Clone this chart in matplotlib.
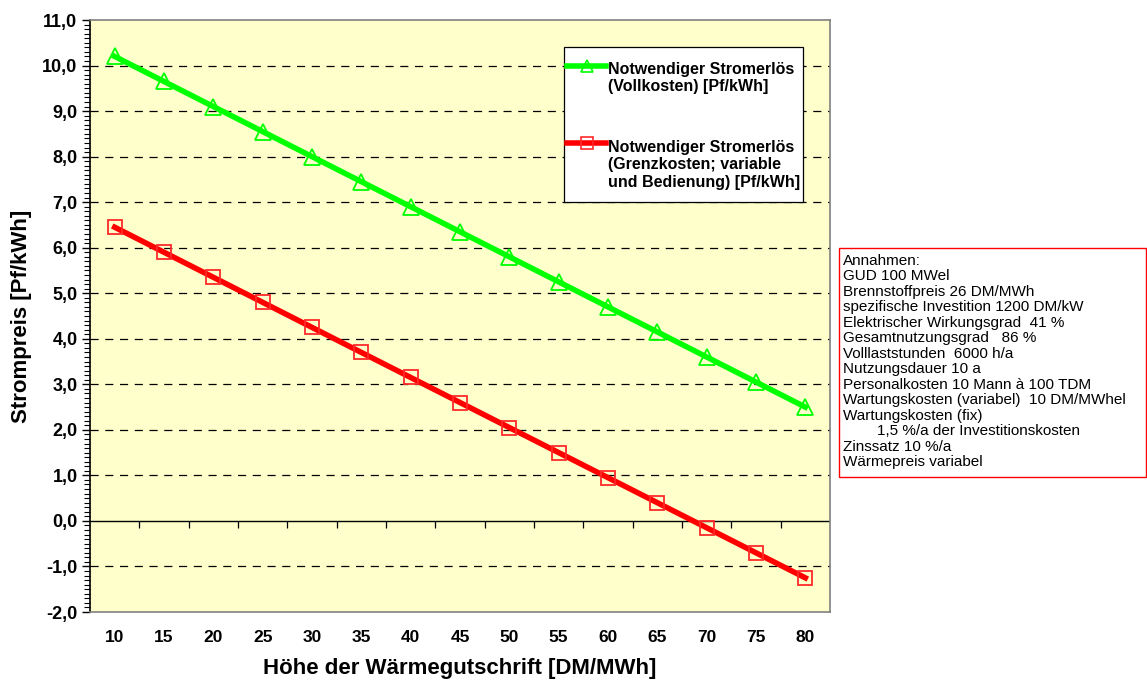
import matplotlib
matplotlib.use("Agg")
import matplotlib.pyplot as plt
from matplotlib.ticker import MultipleLocator, FixedLocator, NullFormatter
from matplotlib.lines import Line2D

categories = [10, 15, 20, 25, 30, 35, 40, 45, 50, 55, 60, 65, 70, 75, 80]
vollkosten = [10.2, 9.65, 9.1, 8.55, 8.0, 7.45, 6.9, 6.35, 5.8, 5.25, 4.7, 4.15, 3.6, 3.05, 2.5]
grenzkosten = [6.45, 5.9, 5.35, 4.8, 4.25, 3.7, 3.15, 2.6, 2.05, 1.5, 0.95, 0.4, -0.15, -0.7, -1.25]
y_ticks = [-2, -1, 0, 1, 2, 3, 4, 5, 6, 7, 8, 9, 10, 11]
label_voll = "Notwendiger Stromerlös\n(Vollkosten) [Pf/kWh]"
label_grenz = "Notwendiger Stromerlös\n(Grenzkosten; variable\nund Bedienung) [Pf/kWh]"
annahmen = [
    "Annahmen:",
    "GUD 100 MWel",
    "Brennstoffpreis 26 DM/MWh",
    "spezifische Investition 1200 DM/kW",
    "Elektrischer Wirkungsgrad  41 %",
    "Gesamtnutzungsgrad   86 %",
    "Volllaststunden  6000 h/a",
    "Nutzungsdauer 10 a",
    "Personalkosten 10 Mann à 100 TDM",
    "Wartungskosten (variabel)  10 DM/MWhel",
    "Wartungskosten (fix)",
    "        1,5 %/a der Investitionskosten",
    "Zinssatz 10 %/a",
    "Wärmepreis variabel",
]

plt.rcParams['font.family'] = ['Liberation Sans', 'DejaVu Sans']

GREEN = '#00FF00'
RED = '#FF0000'
RED_MK = '#FF2A2A'

W, H = 1147, 682
fig = plt.figure(figsize=(W / 100, H / 100), dpi=100)
fig.patch.set_facecolor('white')
AX_L, AX_T, AX_W, AX_H = 90, 20, 740, 592
ax = fig.add_axes([AX_L / W, 1 - (AX_T + AX_H) / H, AX_W / W, AX_H / H])
ax.set_facecolor('#FFFFCC')

x = list(range(len(categories)))
ax.set_xlim(-0.5, len(categories) - 0.5)
ax.set_ylim(y_ticks[0], y_ticks[-1])

# gridlines
for yt in y_ticks[1:-1]:
    if yt == 0:
        continue
    ax.axhline(yt, color='black', lw=0.9, ls=(0, (6.5, 5.3)), zorder=1)
ax.axhline(0, color='black', lw=1.0, zorder=2)

ax.plot(x, vollkosten, color=GREEN, lw=4, marker='^', markersize=11,
        markerfacecolor='none', markeredgecolor=GREEN, markeredgewidth=1.3, zorder=4)
ax.plot(x, grenzkosten, color=RED, lw=4, marker='s', markersize=10,
        markerfacecolor='none', markeredgecolor=RED_MK, markeredgewidth=1.3, zorder=4)

for s in ax.spines.values():
    s.set_color('#808080')
    s.set_linewidth(1.2)
ax.spines['left'].set_color('black')

ax.yaxis.set_major_locator(FixedLocator(y_ticks))
ax.yaxis.set_minor_locator(MultipleLocator(0.1))
ax.set_yticklabels([f"{v:.1f}".replace('.', ',') for v in y_ticks], fontweight='bold', fontsize=13)
ax.tick_params(axis='y', which='major', length=6, width=1.0, direction='out', pad=3)
ax.tick_params(axis='y', which='minor', length=4, width=0.8, direction='out')

ax.set_xticks(x)
ax.set_xticklabels([str(c) for c in categories], fontweight='bold', fontsize=12.5)
ax.tick_params(axis='x', which='both', length=0, pad=13)

sec = ax.secondary_xaxis(2 / 13)
sec.set_xticks([i - 0.5 for i in range(1, len(categories))])
sec.xaxis.set_major_formatter(NullFormatter())
sec.tick_params(axis='x', length=5, width=0.9, direction='out', color='black')
sec.spines['bottom'].set_visible(False)

ax.set_ylabel("Strompreis [Pf/kWh]", fontweight='bold', fontsize=16)
ax.yaxis.set_label_coords((32 - AX_L) / AX_W, 0.5)
ax.set_xlabel("Höhe der Wärmegutschrift [DM/MWh]", fontweight='bold', fontsize=16)
ax.xaxis.set_label_coords(0.5, -(658 - (AX_T + AX_H)) / AX_H)

# legend (drawn as a box with sample lines and labels)
def fx(px):
    return px / W

def fy(py):
    return 1 - py / H

lx0, ly0, lx1, ly1 = 564, 47, 803, 202
fig.patches.append(plt.Rectangle((fx(lx0), fy(ly1)), (lx1 - lx0) / W, (ly1 - ly0) / H,
                                 transform=fig.transFigure, facecolor='white',
                                 edgecolor='black', lw=0.9, zorder=5))
legend_items = [
    (GREEN, GREEN, '^', 9, label_voll, 66, 78),
    (RED, RED_MK, 's', 8, label_grenz, 143, 165),
]
for col, mcol, mk, ms, lab, hy, ty in legend_items:
    fig.add_artist(Line2D([fx(567), fx(606)], [fy(hy), fy(hy)], transform=fig.transFigure,
                          color=col, lw=4, zorder=6))
    fig.add_artist(Line2D([fx(586.5)], [fy(hy)], transform=fig.transFigure, marker=mk,
                          markersize=ms, markerfacecolor='none', markeredgecolor=mcol,
                          markeredgewidth=1.2, zorder=7))
    fig.text(fx(608), fy(ty), lab, fontsize=11.5, fontweight='bold', ha='left', va='center',
             linespacing=1.22, zorder=7)

# assumptions box
bx0, by0, bx1, by1 = 839, 248, 1146, 477
fig.patches.append(plt.Rectangle((fx(bx0), fy(by1)), (bx1 - bx0) / W, (by1 - by0) / H,
                                 transform=fig.transFigure, facecolor='white',
                                 edgecolor=RED, lw=1.0, zorder=5))
line_h = 15.46
for i, t in enumerate(annahmen):
    fig.text(fx(843), fy(261 + i * line_h), t, fontsize=11, ha='left', va='center', zorder=6)

fig.savefig('out.png', dpi=100)
